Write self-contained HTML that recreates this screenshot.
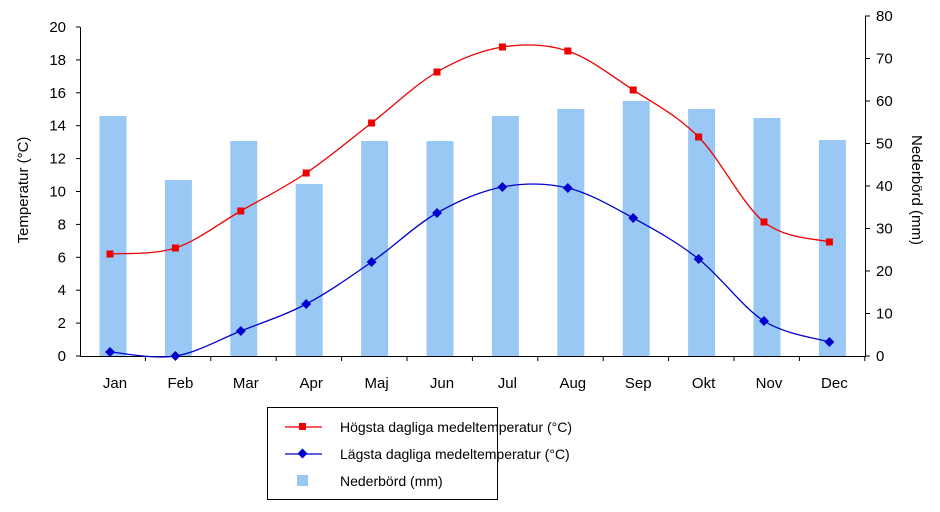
<!DOCTYPE html>
<html><head><meta charset="utf-8"><style>
body{margin:0;background:#fff;}
svg{display:block;font-family:"Liberation Sans",sans-serif;}
</style></head><body>
<svg id="c" width="940" height="512" viewBox="0 0 940 512" xmlns="http://www.w3.org/2000/svg">
<g id="bars" fill="#99c8f5"></g>
<g stroke="#000" stroke-width="1" fill="none">
<line x1="80.5" y1="27" x2="80.5" y2="356.5"/>
<line x1="865.5" y1="16" x2="865.5" y2="356.5"/>
<line x1="80" y1="356.5" x2="866" y2="356.5"/>
<g id="ticks"></g>
</g>
<g id="lbl" font-size="15" fill="#000"></g>
<text transform="translate(28,190) rotate(-90)" text-anchor="middle" font-size="15">Temperatur  (°C)</text>
<text transform="translate(912,190) rotate(90)" text-anchor="middle" font-size="15">Nederbörd (mm)</text>
<path id="hi" fill="none" stroke="#e00" stroke-width="1.3"/>
<path id="lo" fill="none" stroke="#00c" stroke-width="1.3"/>
<g id="mk"></g>
<rect x="267.5" y="407.5" width="230" height="92" fill="#fff" stroke="#000"/>
<line x1="285" y1="427" x2="322" y2="427" stroke="#e00" stroke-width="1.3"/>
<rect x="299" y="423" width="7" height="7" fill="#e00"/>
<text x="340" y="432" font-size="14">Högsta dagliga medeltemperatur (°C)</text>
<line x1="285" y1="454" x2="322" y2="454" stroke="#00c" stroke-width="1.3"/>
<rect x="299" y="450" width="7" height="7" fill="#00c" transform="rotate(45 302.5 453.5)"/>
<text x="340" y="459" font-size="14">Lägsta dagliga medeltemperatur (°C)</text>
<rect x="297" y="475" width="11" height="11" fill="#99c8f5"/>
<text x="340" y="486" font-size="14">Nederbörd (mm)</text>
</svg>
<script>
var ns="http://www.w3.org/2000/svg";
function el(p,t,a,txt){var e=document.createElementNS(ns,t);for(var k in a)e.setAttribute(k,a[k]);if(txt!==undefined)e.textContent=String(txt);document.getElementById(p).appendChild(e);return e;}
var xs=[],m=["Jan","Feb","Mar","Apr","Maj","Jun","Jul","Aug","Sep","Okt","Nov","Dec"];
var bt=[116,180,141,184,141,141,116,109,101,109,118,140];
for(var i=0;i<12;i++){var x=113+i*65.4;xs.push(x);
el("bars","rect",{x:x-13.5,y:bt[i],width:27,height:356-bt[i]});
el("lbl","text",{x:x+2,y:388,"text-anchor":"middle"},m[i]);
el("ticks","line",{x1:80+i*65.4+65.4,y1:356,x2:80+i*65.4+65.4,y2:361});}
for(var v=0;v<=20;v+=2){var y=356-v*16.45;el("ticks","line",{x1:76,y1:y,x2:80,y2:y});el("lbl","text",{x:66,y:y+5,"text-anchor":"end"},v);}
for(var v=0;v<=80;v+=10){var y=356-v*4.25;el("ticks","line",{x1:865,y1:y,x2:870,y2:y});el("lbl","text",{x:876,y:y+5},v);}
var hi=[254,248,211,173,123,72,47,51,90,137,222,242],lo=[352,356,331,304,262,213,187,188,218,259,321,342];
function path(ys){var P=xs.map(function(x,i){return[x-3,ys[i]]});var d="M"+P[0];for(var i=0;i<P.length-1;i++){var p0=P[i-1]||P[i],p1=P[i],p2=P[i+1],p3=P[i+2]||p2;d+=" C"+(p1[0]+(p2[0]-p0[0])/6)+","+(p1[1]+(p2[1]-p0[1])/6)+" "+(p2[0]-(p3[0]-p1[0])/6)+","+(p2[1]-(p3[1]-p1[1])/6)+" "+p2;}return d;}
document.getElementById("hi").setAttribute("d",path(hi));
document.getElementById("lo").setAttribute("d",path(lo));
for(var i=0;i<12;i++){el("mk","rect",{x:xs[i]-6.5,y:hi[i]-3.5,width:7,height:7,fill:"#e00"});
el("mk","rect",{x:xs[i]-6.5,y:lo[i]-3.5,width:7,height:7,fill:"#00c",transform:"rotate(45 "+(xs[i]-3)+" "+lo[i]+")"});}
</script>
</body></html>
